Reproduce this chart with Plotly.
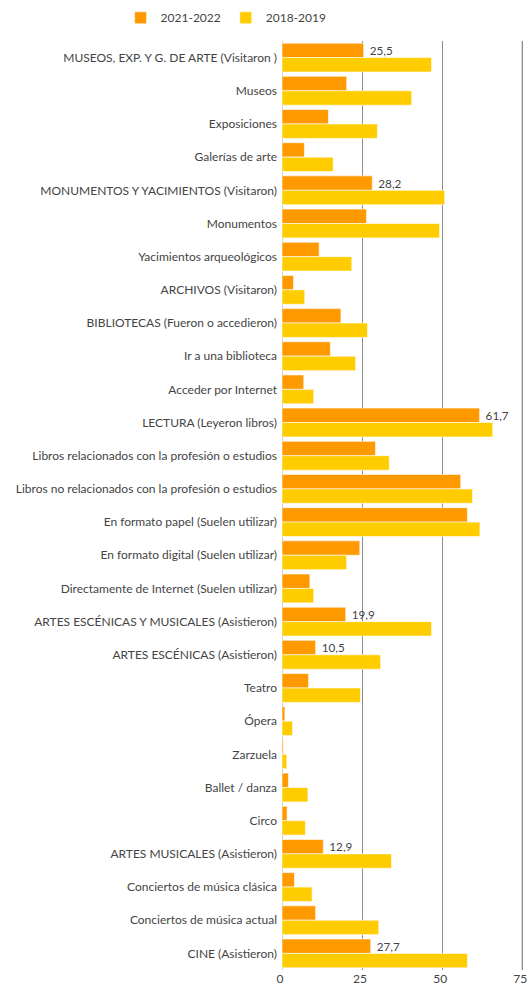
import plotly.graph_objects as go

categories = [
    "MUSEOS, EXP. Y G. DE ARTE (Visitaron )",
    "Museos",
    "Exposiciones",
    "Galerías de arte",
    "MONUMENTOS Y YACIMIENTOS (Visitaron)",
    "Monumentos",
    "Yacimientos arqueológicos",
    "ARCHIVOS (Visitaron)",
    "BIBLIOTECAS (Fueron o accedieron)",
    "Ir a una biblioteca",
    "Acceder por Internet",
    "LECTURA (Leyeron libros)",
    "Libros relacionados con la profesión o estudios",
    "Libros no relacionados con la profesión o estudios",
    "En formato papel (Suelen utilizar)",
    "En formato digital (Suelen utilizar)",
    "Directamente de Internet (Suelen utilizar)",
    "ARTES ESCÉNICAS Y MUSICALES (Asistieron)",
    "ARTES ESCÉNICAS (Asistieron)",
    "Teatro",
    "Ópera",
    "Zarzuela",
    "Ballet / danza",
    "Circo",
    "ARTES MUSICALES (Asistieron)",
    "Conciertos de música clásica",
    "Conciertos de música actual",
    "CINE (Asistieron)",
]

v_2021_2022 = [25.5, 20.2, 14.5, 7.0, 28.2, 26.4, 11.6, 3.6, 18.4, 15.1, 6.8,
               61.7, 29.2, 55.8, 57.9, 24.3, 8.7, 19.9, 10.5, 8.3, 0.9, 0.4,
               2.0, 1.6, 12.9, 3.9, 10.5, 27.7]
v_2018_2019 = [46.7, 40.5, 29.8, 16.0, 50.8, 49.2, 21.8, 7.1, 26.7, 23.0, 9.9,
               65.8, 33.5, 59.5, 61.8, 20.2, 9.9, 46.7, 30.8, 24.5, 3.3, 1.5,
               8.1, 7.3, 34.2, 9.4, 30.2, 57.9]

x_ticks = [0, 25, 50, 75]

# rows that carry a value label on the 2021-2022 bar
labelled = ["MUSEOS, EXP. Y G. DE ARTE (Visitaron )",
            "MONUMENTOS Y YACIMIENTOS (Visitaron)",
            "LECTURA (Leyeron libros)",
            "ARTES ESCÉNICAS Y MUSICALES (Asistieron)",
            "ARTES ESCÉNICAS (Asistieron)",
            "ARTES MUSICALES (Asistieron)",
            "CINE (Asistieron)"]

labels = ["\u00a0" + f"{v:.1f}".replace(".", ",") if c in labelled else ""
          for c, v in zip(categories, v_2021_2022)]

font_family = "Lato, 'Open Sans', sans-serif"
text_color = "#444444"
grid_color = "#8c8c8c"

fig = go.Figure()
fig.add_trace(go.Bar(
    y=categories, x=v_2021_2022, name="2021-2022", orientation="h",
    marker=dict(color="#FF9900", line=dict(color="white", width=0.6)),
    text=labels, textposition="outside", cliponaxis=False,
    textfont=dict(size=13, color=text_color, family=font_family),
    hoverinfo="x+y",
))
fig.add_trace(go.Bar(
    y=categories, x=v_2018_2019, name="2018-2019", orientation="h",
    marker=dict(color="#FFCC00", line=dict(color="white", width=0.6)),
    hoverinfo="x+y",
))

# plotly drops the gridline of the last tick, so draw that one by hand
fig.add_vline(x=x_ticks[-1], line=dict(color=grid_color, width=1), layer="below")

fig.update_layout(
    width=527,
    height=987,
    barmode="group",
    bargap=0.13,
    bargroupgap=0,
    separators=",.",
    plot_bgcolor="white",
    paper_bgcolor="white",
    font=dict(family=font_family, size=12, color=text_color),
    margin=dict(l=282, r=0, t=41, b=17),
    showlegend=True,
    legend=dict(
        orientation="h",
        xref="container", x=0.429, xanchor="center",
        yref="container", y=0.982, yanchor="middle",
        font=dict(size=12, color=text_color),
        itemwidth=30,
    ),
    xaxis=dict(
        range=[0, 76.5],
        tickvals=x_ticks,
        showgrid=True,
        gridcolor=grid_color,
        gridwidth=1,
        zeroline=True,
        zerolinecolor="#cccccc",
        zerolinewidth=1,
        tickfont=dict(size=12, color=text_color),
        ticklabeloverflow="allow",
        ticklabelshift=-2,
        automargin=False,
        fixedrange=True,
    ),
    yaxis=dict(
        autorange="reversed",
        showgrid=False,
        ticks="",
        ticklabelstandoff=4,
        automargin=False,
        tickfont=dict(size=12, color=text_color),
    ),
)

# drop the browser's default body margin so the figure sits at the page corner
fig.write_html(
    "out.html",
    config={"displayModeBar": False},
    post_script="document.body.style.margin='0';",
)
